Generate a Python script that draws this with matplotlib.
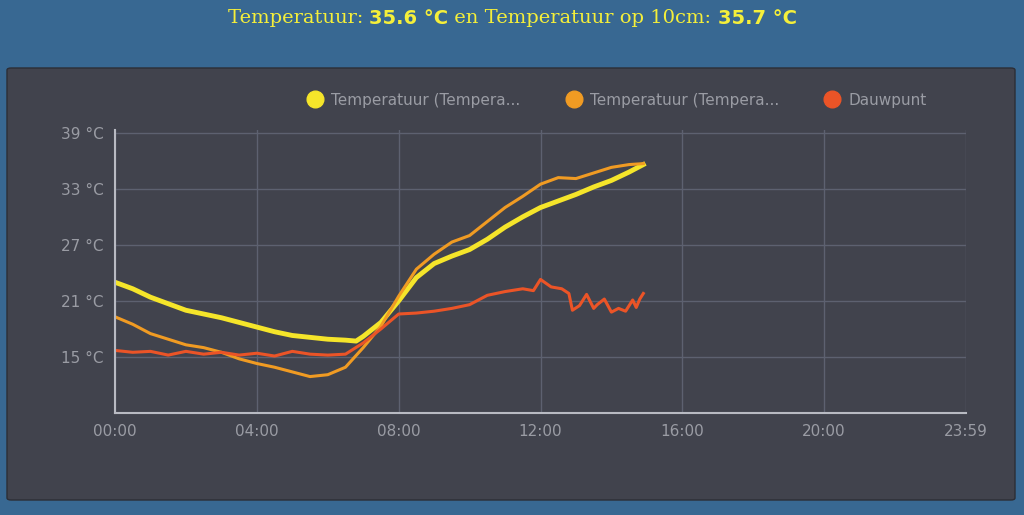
import numpy as np
import matplotlib.pyplot as plt
from matplotlib.patches import FancyBboxPatch

# time in hours, values in degrees C
t_temp = [0, 0.5, 1, 1.5, 2, 2.5, 3, 3.5, 4, 4.5, 5, 5.5, 6, 6.5, 6.8, 7, 7.5, 8, 8.5, 9, 9.5, 10, 10.5, 11, 11.5, 12, 12.5, 13, 13.5, 14, 14.5, 14.9]
temp = [23, 22.3, 21.4, 20.7, 20, 19.6, 19.2, 18.7, 18.2, 17.7, 17.3, 17.1, 16.9, 16.8, 16.7, 17.2, 18.7, 21, 23.5, 25, 25.8, 26.5, 27.6, 28.9, 30, 31, 31.7, 32.4, 33.2, 33.9, 34.8, 35.6]
t_temp10 = [0, 0.5, 1, 1.5, 2, 2.5, 3, 3.5, 4, 4.5, 5, 5.5, 6, 6.5, 7, 7.5, 8, 8.5, 9, 9.5, 10, 10.5, 11, 11.5, 12, 12.5, 13, 13.5, 14, 14.5, 14.9]
temp10 = [19.3, 18.5, 17.5, 16.9, 16.3, 16, 15.5, 14.8, 14.3, 13.9, 13.4, 12.9, 13.1, 13.9, 16, 18.3, 21.5, 24.4, 26, 27.3, 28, 29.5, 31, 32.2, 33.5, 34.2, 34.1, 34.7, 35.3, 35.6, 35.7]
t_dew = [0, 0.5, 1, 1.5, 2, 2.5, 3, 3.5, 4, 4.5, 5, 5.5, 6, 6.5, 7, 7.5, 8, 8.5, 9, 9.5, 10, 10.5, 11, 11.5, 11.8, 12, 12.3, 12.6, 12.8, 12.9, 13.1, 13.3, 13.5, 13.6, 13.8, 14, 14.2, 14.4, 14.6, 14.7, 14.8, 14.9]
dew = [15.7, 15.5, 15.6, 15.2, 15.6, 15.3, 15.5, 15.2, 15.4, 15.1, 15.6, 15.3, 15.2, 15.3, 16.5, 18, 19.6, 19.7, 19.9, 20.2, 20.6, 21.6, 22, 22.3, 22.1, 23.3, 22.5, 22.3, 21.8, 20, 20.5, 21.7, 20.2, 20.6, 21.2, 19.8, 20.2, 19.9, 21.1, 20.3, 21.2, 21.8]

series = [(t_temp, temp, '#f5e52a', 3.5, 'Temperatuur (Tempera...'),
          (t_temp10, temp10, '#f09b23', 2.2, 'Temperatuur (Tempera...'),
          (t_dew, dew, '#eb5427', 2.2, 'Dauwpunt')]

fig = plt.figure(figsize=(10.24, 5.15), dpi=100)
fig.patch.set_facecolor('#386892')
panel = FancyBboxPatch((7 / 1024, 15 / 515), 1008 / 1024, 432 / 515,
                       boxstyle='round,pad=0,rounding_size=0.004',
                       transform=fig.transFigure, facecolor='#41434d',
                       edgecolor='#2c2e36', lw=1, zorder=-10)
fig.patches.append(panel)

ax = fig.add_axes([115 / 1024, 102 / 515, 851 / 1024, 283 / 515])
ax.set_facecolor('#41434d')
for x, y, c, lw, lab in series:
    ax.plot(x, y, color=c, lw=lw, label=lab)
ax.set_xlim(0, 24)
ax.set_ylim(9, 39.3)
ax.set_xticks([0, 4, 8, 12, 16, 20, 24])
ax.set_xticklabels(['00:00', '04:00', '08:00', '12:00', '16:00', '20:00', '23:59'])
ax.set_yticks([15, 21, 27, 33, 39])
ax.set_yticklabels([f'{v} °C' for v in [15, 21, 27, 33, 39]])
ax.grid(color='#5d6170', lw=1)
ax.set_axisbelow(True)
ax.tick_params(colors='#9a9ca4', labelsize=11, length=0, pad=8)
for s in ['top', 'right']:
    ax.spines[s].set_visible(False)
for s in ['left', 'bottom']:
    ax.spines[s].set_color('#b8bac2')
    ax.spines[s].set_linewidth(1.5)

handles = [plt.Line2D([], [], marker='o', ls='', ms=12, color=c) for _, _, c, _, _ in series]
ax.legend(handles, [s[4] for s in series], loc='lower right', bbox_to_anchor=(0.97, 1.03),
          ncol=3, frameon=False, labelcolor='#9a9ca4', fontsize=11,
          handletextpad=0.05, columnspacing=2.5)

# title with bold values
parts = [('Temperatuur: ', 'normal'), ('35.6 °C', 'bold'),
         (' en Temperatuur op 10cm: ', 'normal'), ('35.7 °C', 'bold')]
fig.canvas.draw()
r = fig.canvas.get_renderer()
texts = []
for s, w in parts:
    texts.append(fig.text(0, 0.965, s, color='#f5ef3a', fontsize=14, fontweight=w,
                          family='DejaVu Serif' if w == 'normal' else 'DejaVu Sans', va='center'))
widths = [t.get_window_extent(r).width for t in texts]
x0 = (1024 - sum(widths)) / 2
for t, w in zip(texts, widths):
    t.set_x(x0 / 1024)
    x0 += w

fig.savefig('out.png', facecolor=fig.get_facecolor())
